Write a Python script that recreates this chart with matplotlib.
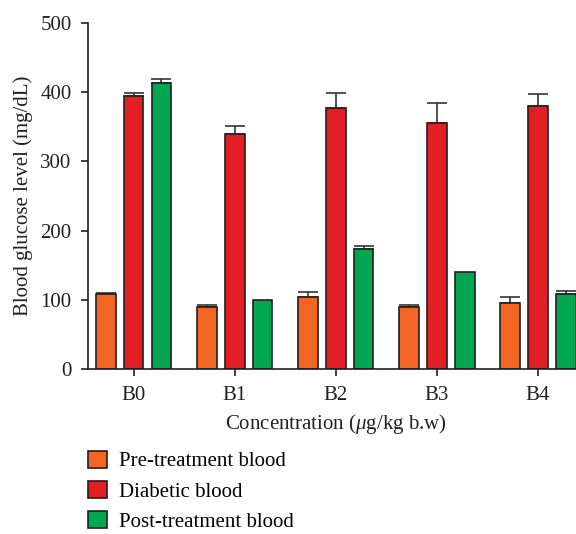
import numpy as np
import matplotlib
matplotlib.use("Agg")
import matplotlib.pyplot as plt
from matplotlib.patches import Patch

plt.rcParams['font.family'] = ['Liberation Serif', 'DejaVu Serif']
plt.rcParams['mathtext.fontset'] = 'custom'
plt.rcParams['mathtext.it'] = 'Liberation Serif:italic'
plt.rcParams['mathtext.rm'] = 'Liberation Serif'

# ----- Data -----
groups = ["B0", "B1", "B2", "B3", "B4"]
series = ["Pre-treatment blood", "Diabetic blood", "Post-treatment blood"]
pre = [108, 89, 104, 90, 95]
pre_err = [2, 4, 7, 3, 9]
diabetic = [395, 339, 377, 356, 380]
diabetic_err = [4, 12, 22, 29, 18]
post = [413, 99, 173, 140, 109]
post_err = [6, 0, 4, 0, 4]

colors = ["#F26522", "#E31E24", "#00A650"]
edge = "#231F20"

x = np.arange(len(groups))
width = 0.195
offset = 0.275

fig = plt.figure(figsize=(5.76, 5.34), dpi=100)
ax = fig.add_axes([0.153, 0.309, 0.86, 0.648])

vals = [pre, diabetic, post]
errs = [pre_err, diabetic_err, post_err]
for i in range(3):
    pos = x + (i - 1) * offset
    ax.bar(pos, vals[i], width, color=colors[i], edgecolor=edge, linewidth=1.2, zorder=2)
    e = np.array(errs[i])
    m = e > 0
    ax.errorbar(pos[m], np.array(vals[i])[m], yerr=[np.zeros(m.sum()), e[m]],
                fmt='none', ecolor="#333333", elinewidth=1.2, capsize=7, capthick=1.2, zorder=1)

ax.set_xlim(-0.45, 4.45)
ax.set_ylim(0, 500)
ax.set_yticks([0, 100, 200, 300, 400, 500])
ax.set_xticks(x)
ax.set_xticklabels(groups)
ax.spines['top'].set_visible(False)
ax.spines['right'].set_visible(False)
for s in ['left', 'bottom']:
    ax.spines[s].set_linewidth(1.2)
    ax.spines[s].set_color(edge)
ax.tick_params(axis='both', direction='out', length=5, width=1.2, colors=edge,
               labelsize=15, labelcolor=edge, pad=7)

ax.set_ylabel("Blood glucose level (mg/dL)", fontsize=15, color=edge, labelpad=5)
ax.set_xlabel(r"Concentration ($\mu$g/kg b.w)", fontsize=15, color=edge, labelpad=5)

handles = [Patch(facecolor=colors[i], edgecolor=edge, linewidth=1.2, label=series[i]) for i in range(3)]
fig.legend(handles=handles, loc='upper left', bbox_to_anchor=(0.152, 0.156), frameon=False,
           fontsize=15, handlelength=0.92, handleheight=0.87, handletextpad=0.6, labelspacing=0.46,
           borderaxespad=0, borderpad=0)

fig.savefig("out.png", dpi=100)
